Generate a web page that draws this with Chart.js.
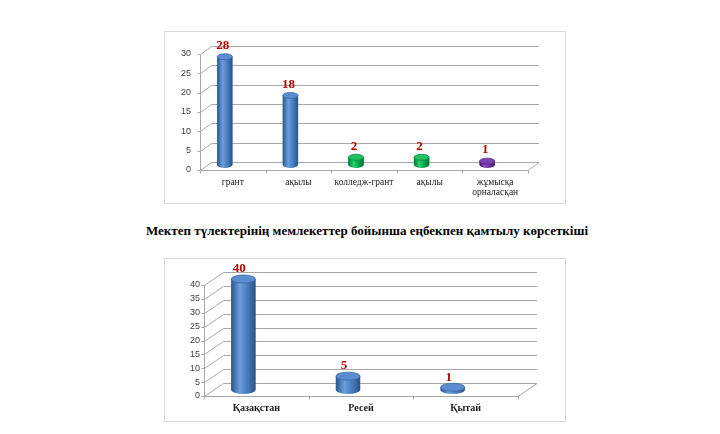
<!DOCTYPE html>
<html><head><meta charset="utf-8">
<script src="https://cdn.jsdelivr.net/npm/chart.js@4"></script>
<style>
html,body{margin:0;padding:0;background:#fff;width:720px;height:434px;overflow:hidden;}
.box{position:absolute;border:1px solid #d9d9d9;box-sizing:border-box;background:#fff;}
.box canvas{position:absolute;left:0;top:0;}
#title{position:absolute;left:0;width:734px;top:223px;line-height:15px;text-align:center;font:bold 13px "Liberation Serif",serif;color:#000;white-space:nowrap;}
</style></head><body>
<div class="box" style="left:164px;top:31px;width:402px;height:173px;"><canvas id="c1" width="400" height="171"></canvas></div>
<div id="title"></div>
<div class="box" style="left:164px;top:258px;width:402px;height:164px;"><canvas id="c2" width="400" height="162"></canvas></div>
<script>
// ---- data ----
const titleText = 'Мектеп түлектерінің мемлекеттер бойынша еңбекпен қамтылу көрсеткіші';
const topCategories = ['грант', 'ақылы', 'колледж-грант', 'ақылы', ['жұмысқа', 'орналасқан']];
const topValues = [28, 18, 2, 2, 1];
const topYTicks = [0, 5, 10, 15, 20, 25, 30];
const bottomCategories = ['Қазақстан', 'Ресей', 'Қытай'];
const bottomValues = [40, 5, 1];
const bottomYTicks = [0, 5, 10, 15, 20, 25, 30, 35, 40];

document.getElementById('title').textContent = titleText;

const palettes = {
  blue:   {stops: ['#2b5890', '#6b9edc', '#4b7ebf', '#2a5488'], cap: '#5b8dd0', edge: '#3a69a5'},
  green:  {stops: ['#00773a', '#2fd06c', '#00a84c', '#00733a'], cap: '#20c262', edge: '#00883f'},
  purple: {stops: ['#4a1e74', '#8b4fc6', '#6a32a0', '#461c6e'], cap: '#7b42b2', edge: '#57288a'}
};
const SERIF = '"Liberation Serif", "Times New Roman", serif';

function cyl3d(cfg) {
  return {
    id: 'cyl3d',
    beforeDatasetsDraw(chart) {
      const {ctx, chartArea: a, scales: {x, y}} = chart;
      ctx.save();
      ctx.strokeStyle = '#a8a8a8';
      ctx.lineWidth = 1;
      ctx.beginPath();
      const lx = Math.round(a.left) + 0.5;
      const by = Math.round(a.bottom) + 0.5;
      y.ticks.forEach(t => {
        const py = Math.round(y.getPixelForValue(t.value)) + 0.5;
        ctx.moveTo(lx - 3, py); ctx.lineTo(lx, py);
        ctx.lineTo(lx + cfg.dx, py + cfg.dy);
        ctx.lineTo(a.right + cfg.dx, py + cfg.dy);
      });
      ctx.moveTo(lx, Math.round(a.top) + 0.5); ctx.lineTo(lx, by);
      ctx.moveTo(lx, by); ctx.lineTo(a.right, by); ctx.lineTo(a.right + cfg.dx, by + cfg.dy);
      const n = x.ticks.length, w = (a.right - a.left) / n;
      for (let i = 0; i <= n; i++) {
        const px = Math.round(a.left + i * w) + 0.5;
        ctx.moveTo(px, by); ctx.lineTo(px, by + 3);
      }
      ctx.stroke();
      ctx.restore();
      ctx.save();
      ctx.translate(cfg.sx, cfg.sy);
    },
    afterDatasetsDraw(chart) {
      const {ctx} = chart;
      const meta = chart.getDatasetMeta(0);
      const data = chart.data.datasets[0].data;
      meta.data.forEach((bar, i) => {
        const p = bar.getProps(['x', 'y', 'base', 'width'], true);
        const pal = palettes[cfg.colors[i]];
        const l = p.x - p.width / 2, r = p.x + p.width / 2, ry = cfg.ry;
        const g = ctx.createLinearGradient(l, 0, r, 0);
        g.addColorStop(0, pal.stops[0]); g.addColorStop(0.35, pal.stops[1]);
        g.addColorStop(0.65, pal.stops[2]); g.addColorStop(1, pal.stops[3]);
        ctx.beginPath();
        ctx.moveTo(l, p.y); ctx.lineTo(l, p.base);
        ctx.ellipse(p.x, p.base, p.width / 2, ry, 0, Math.PI, 0, true);
        ctx.lineTo(r, p.y); ctx.closePath();
        ctx.fillStyle = g; ctx.fill();
        ctx.beginPath();
        ctx.ellipse(p.x, p.y, p.width / 2, ry, 0, 0, Math.PI * 2);
        ctx.fillStyle = pal.cap; ctx.fill();
        ctx.strokeStyle = pal.edge; ctx.lineWidth = 0.8; ctx.stroke();
        ctx.font = 'bold 13px ' + SERIF;
        ctx.fillStyle = '#c00000';
        ctx.textAlign = 'center'; ctx.textBaseline = 'middle';
        ctx.fillText(String(data[i]), p.x + cfg.lx, p.y - cfg.ly);
      });
      ctx.restore();
    }
  };
}

function makeChart(id, cats, vals, yTicks, o) {
  return new Chart(document.getElementById(id), {
    type: 'bar',
    data: {labels: cats, datasets: [{data: vals, backgroundColor: o.colors.map(c => palettes[c].stops[2]),
      barThickness: o.barW, clip: false}]},
    options: {
      responsive: false, animation: false, events: [],
      layout: {padding: {left: 0, right: o.padR, top: o.padT, bottom: 0}},
      plugins: {legend: {display: false}, tooltip: {enabled: false}},
      scales: {
        x: {grid: {display: false, drawTicks: false}, border: {display: false},
            ticks: {font: {family: SERIF, size: o.xSize, weight: o.xBold ? 'bold' : 'normal', lineHeight: 1.05},
                    color: '#1a1a1a', padding: o.xPad, maxRotation: 0, autoSkip: false},
            afterFit: s => { s.height = o.xH; }},
        y: {min: yTicks[0], max: yTicks[yTicks.length - 1],
            grid: {display: false, drawTicks: false}, border: {display: false},
            ticks: {stepSize: yTicks[1] - yTicks[0], font: {family: '"Liberation Sans", sans-serif', size: 9}, color: '#404040', padding: o.yPad},
            afterFit: s => { s.width = o.yW; }}
      }
    },
    plugins: [cyl3d(o)]
  });
}

makeChart('c1', topCategories, topValues, topYTicks, {
  colors: ['blue', 'blue', 'green', 'green', 'purple'], barW: 15, padR: 37, padT: 22, xH: 33, yW: 35,
  xPad: 8, yPad: 9, xBold: false, xSize: 9.5, dx: 11, dy: -8, sx: -8, sy: -5, ry: 3, lx: -2, ly: 11
});
makeChart('c2', bottomCategories, bottomValues, bottomYTicks, {
  colors: ['blue', 'blue', 'blue'], barW: 24, padR: 47, padT: 26, xH: 25, yW: 39,
  xPad: 7, yPad: 4, xBold: true, xSize: 10, dx: 19, dy: -13, sx: -13, sy: -6, ry: 4, lx: -4, ly: 10
});
</script>
</body></html>
